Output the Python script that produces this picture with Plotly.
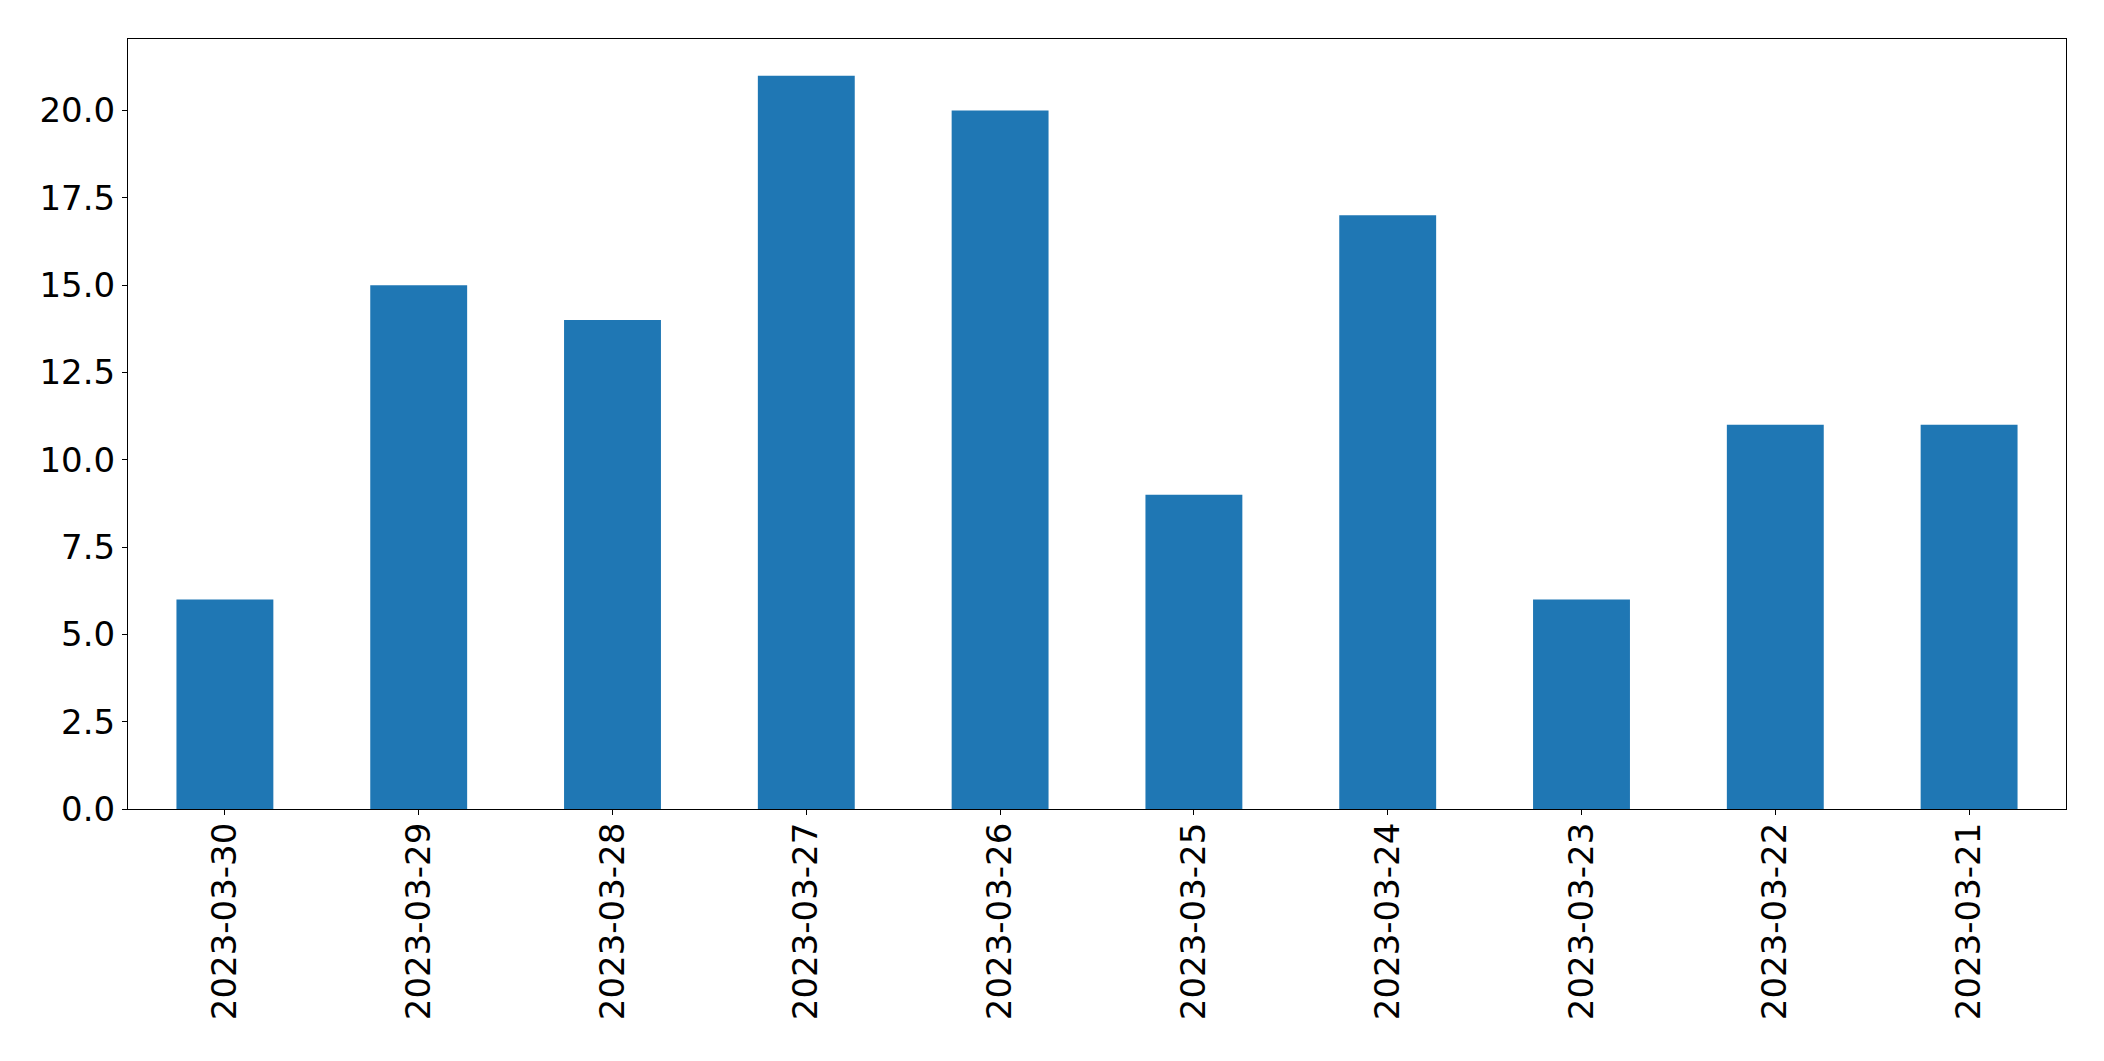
import plotly.graph_objects as go

dates = ["2023-03-30", "2023-03-29", "2023-03-28", "2023-03-27", "2023-03-26",
         "2023-03-25", "2023-03-24", "2023-03-23", "2023-03-22", "2023-03-21"]
counts = [6, 15, 14, 21, 20, 9, 17, 6, 11, 11]
y_ticks = [0, 2.5, 5, 7.5, 10, 12.5, 15, 17.5, 20]
y_tick_text = ["0.0", "2.5", "5.0", "7.5", "10.0", "12.5", "15.0", "17.5", "20.0"]

fig = go.Figure(go.Bar(x=dates, y=counts, width=0.5, marker_color="#1f77b4",
                       marker_line_width=0))

axis_common = dict(showline=True, linecolor="black", linewidth=1.1, mirror=True,
                   ticks="outside", ticklen=5, tickwidth=1.1, tickcolor="black",
                   showgrid=False, zeroline=False,
                   tickfont=dict(family="DejaVu Sans", size=34, color="black"))

fig.update_layout(
    width=2104, height=1061,
    margin=dict(l=128, r=38, t=39, b=252),
    paper_bgcolor="white", plot_bgcolor="white",
    showlegend=False,
    xaxis=dict(type="category", range=[-0.5, 9.5], tickangle=-90,
               ticklabelstandoff=-6, **axis_common),
    yaxis=dict(range=[0, 22.05], tickvals=y_ticks, ticktext=y_tick_text, **axis_common),
)

fig.write_html("out.html")
